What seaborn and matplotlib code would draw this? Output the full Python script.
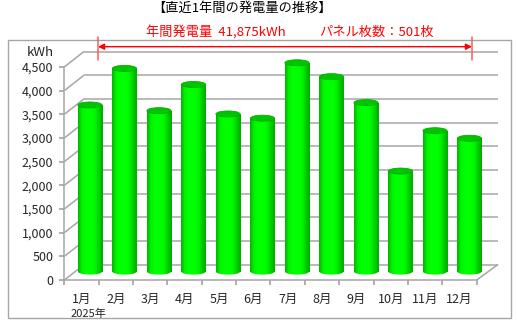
import numpy as np
import pandas as pd
import matplotlib
matplotlib.use("Agg")
import matplotlib.pyplot as plt
from matplotlib.patches import Ellipse, Rectangle
from matplotlib.colors import LinearSegmentedColormap
import seaborn as sns

# ---- data ----
months = ["1月", "2月", "3月", "4月", "5月", "6月", "7月", "8月", "9月", "10月", "11月", "12月"]
kwh = [3530, 4305, 3410, 3965, 3340, 3250, 4425, 4130, 3580, 2130, 2985, 2825]
y_ticks = [0, 500, 1000, 1500, 2000, 2500, 3000, 3500, 4000, 4500]
title = "【直近1年間の発電量の推移】"
annual_text = "年間発電量  41,875kWh"
panel_text = "パネル枚数：501枚"
year_text = "2025年"
unit_text = "kWh"

sns.set_theme(style="white")
plt.rcParams["font.family"] = ["Noto Sans CJK JP", "DejaVu Sans"]

W, H = 517, 324
fig = plt.figure(figsize=(W / 100, H / 100), dpi=100)
fig.patch.set_facecolor("white")

def px_axes(left, top, right, bottom, **kw):
    return fig.add_axes([left / W, 1 - bottom / H, (right - left) / W, (bottom - top) / H], **kw)

GRID = "#A6A6A6"

# ---- background (3D wall / floor decoration) in pixel coordinates ----
bg = fig.add_axes([0, 0, 1, 1], zorder=0)
bg.set_xlim(0, W)
bg.set_ylim(H, 0)
bg.axis("off")
bg.add_patch(Rectangle((8, 40), 503, 278, fill=False, edgecolor=GRID, lw=1.0))

fx0, fx1 = 64.3, 476.7          # front floor x range
fy0, fy_top = 280.0, 67.0       # front axis 0 and 4500
bx0, bx1 = 84.0, 497.7          # back wall x range
by0, by_top = 264.7, 51.5       # back wall 0 and 4500
vmax = y_ticks[-1]
for v in y_ticks:
    yf = fy0 - (fy0 - fy_top) * v / vmax
    yb = by0 - (by0 - by_top) * v / vmax
    bg.plot([fx0, bx0], [yf, yb], color=GRID, lw=1.1, solid_capstyle="butt")
    bg.plot([bx0, bx1], [yb, yb], color=GRID, lw=1.1, solid_capstyle="butt")
bg.plot([fx1, bx1], [fy0, by0], color=GRID, lw=1.1)

# ---- front axis (ticks & labels) ----
fa = px_axes(fx0, fy_top, fx1, fy0, zorder=1)
fa.set_facecolor("none")
fa.set_xlim(-0.5, len(months) - 0.5)
fa.set_ylim(0, vmax)
for s in ["top", "right"]:
    fa.spines[s].set_visible(False)
for s in ["left", "bottom"]:
    fa.spines[s].set_color(GRID)
    fa.spines[s].set_linewidth(1.1)
fa.set_yticks(y_ticks)
fa.set_yticklabels([f"{v:,}" for v in y_ticks], fontsize=9, color="#262626")
fa.set_xticks(np.arange(-0.5, len(months), 1.0))
fa.set_xticklabels([])
fa.set_xticks(np.arange(len(months)), minor=True)
fa.set_xticklabels(months, minor=True, fontsize=9, color="#262626")
fa.tick_params(axis="y", which="major", direction="out", length=3.5, color=GRID, pad=4.5, left=True)
fa.tick_params(axis="x", which="major", direction="out", length=3.5, color=GRID, bottom=True)
fa.tick_params(axis="x", which="minor", length=0, pad=9.5)

# ---- bars (cylinders) ----
scale = 0.0472        # px per kWh
zero_px = 271.6
lo, hi = -250, 4700
ax = px_axes(72.75, zero_px - hi * scale, 72.75 + 34.5 * 12, zero_px - lo * scale, zorder=2)
df = pd.DataFrame({"month": months, "kwh": kwh})
sns.barplot(data=df, x="month", y="kwh", ax=ax, color="#00E600", width=0.7,
            saturation=1, edgecolor="none", order=months)
ax.set_xlim(-0.5, len(months) - 0.5)
ax.set_ylim(lo, hi)
ax.axis("off")
ax.set_facecolor("none")

cmap = LinearSegmentedColormap.from_list(
    "cyl", ["#00B400", "#00F000", "#00FF00", "#00FF00", "#00FF00", "#00F200", "#00CC00", "#00AA00"])
grad = np.linspace(0, 1, 64).reshape(1, -1)
eh = 6.0 / scale  # ellipse height in data units
for p in list(ax.patches):
    x, w, h = p.get_x(), p.get_width(), p.get_height()
    p.set_alpha(0)
    # body
    body = Rectangle((x, 0), w, h, transform=ax.transData, facecolor="none", edgecolor="none")
    ax.add_patch(body)
    im = ax.imshow(grad, cmap=cmap, aspect="auto", extent=[x, x + w, 0, h], zorder=3)
    im.set_clip_path(body)
    # rounded bottom
    bot = Ellipse((x + w / 2, 0), w, eh, transform=ax.transData, facecolor="none", edgecolor="none")
    ax.add_patch(bot)
    im2 = ax.imshow(grad, cmap=cmap, aspect="auto", extent=[x, x + w, -eh, eh], zorder=2.9)
    im2.set_clip_path(bot)
    # top cap
    ax.add_patch(Ellipse((x + w / 2, h), w, eh, facecolor="#00C400", edgecolor="#00B000",
                         lw=0.6, zorder=4))

# ---- texts ----
fg = fig.add_axes([0, 0, 1, 1], zorder=5)
fg.set_xlim(0, W)
fg.set_ylim(H, 0)
fg.axis("off")
fg.text(242.5, 8, title, ha="center", va="center", fontsize=9.5, color="#000000")
fg.text(215.5, 32, annual_text, ha="center", va="center", fontsize=9.5, color="#FF0000")
fg.text(376, 32, panel_text, ha="center", va="center", fontsize=9.5, color="#FF0000")
fg.text(40, 53, unit_text, ha="center", va="center", fontsize=9.5, color="#262626")
fg.text(70.5, 313.5, year_text, ha="left", va="center", fontsize=8, color="#262626")
fg.plot([98, 98], [37, 60], color="#FF5A5A", lw=1.1)
fg.plot([472, 472], [37, 60], color="#FF5A5A", lw=1.1)
fg.annotate("", xy=(98, 46.7), xytext=(472, 46.7),
            arrowprops=dict(arrowstyle="<|-|>", color="#FF0000", lw=1.0,
                            mutation_scale=9, shrinkA=0, shrinkB=0))

fig.savefig("out.png", dpi=100, facecolor="white")
